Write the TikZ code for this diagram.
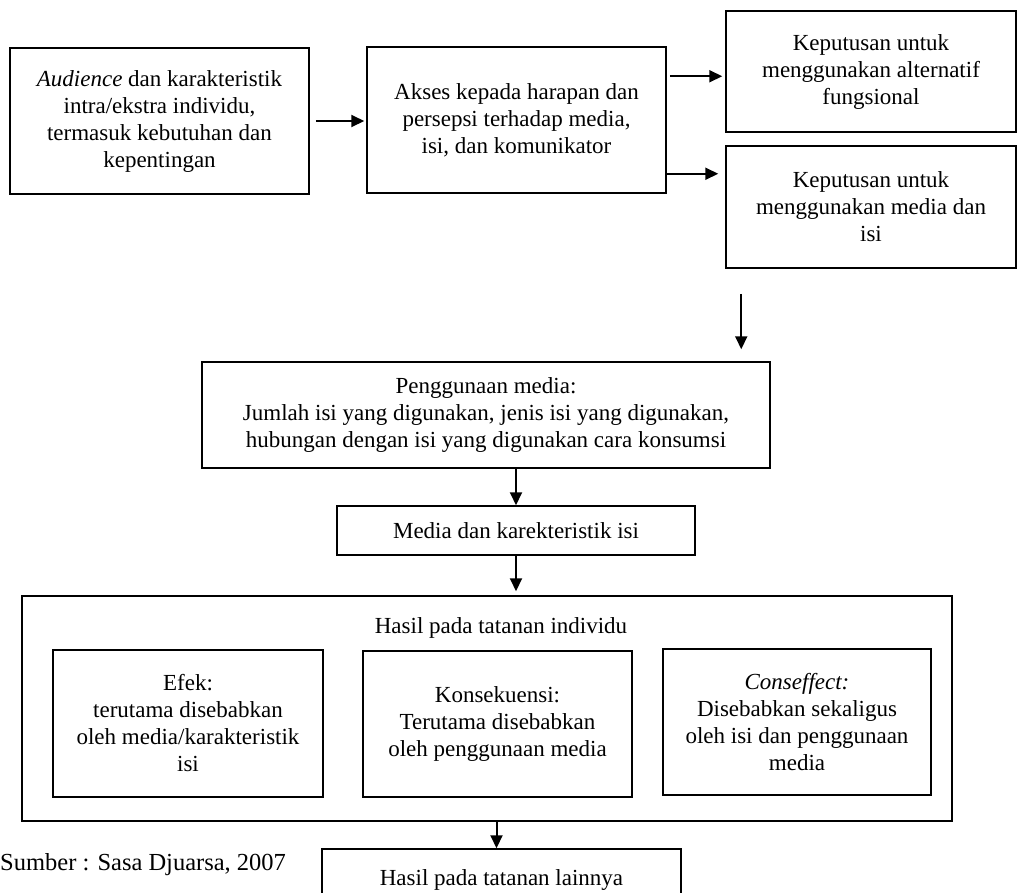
\documentclass[tikz,border=0pt]{standalone}
\usepackage{fontspec}
\setmainfont{Liberation Serif}
\usetikzlibrary{arrows.meta}
\begin{document}
\begin{tikzpicture}[x=1pt,y=-1pt,
  box/.style={draw, line width=1.5pt, inner sep=0pt, align=center, font=\fontsize{23}{27}\selectfont},
  lbl/.style={inner sep=0pt, align=center, font=\fontsize{23}{27}\selectfont},
  src/.style={inner sep=0pt, anchor=west, font=\fontsize{24.5}{29}\selectfont},
  arr/.style={line width=2pt, -{Triangle[length=13pt,width=12pt]}}
]
\useasboundingbox (0,0) rectangle (1017,892);

\node[box, minimum width=299pt, minimum height=146pt] (A) at (159.5,121)
  {\textit{Audience} dan karakteristik\\ intra/ekstra individu,\\ termasuk kebutuhan dan\\ kepentingan};
\node[box, minimum width=299pt, minimum height=146pt] (B) at (516.5,120)
  {Akses kepada harapan dan\\ persepsi terhadap media,\\ isi, dan komunikator};
\node[box, minimum width=290pt, minimum height=121pt] (C) at (871,71.5)
  {Keputusan untuk\\ menggunakan alternatif\\ fungsional};
\node[box, minimum width=290pt, minimum height=122pt] (D) at (871,207)
  {Keputusan untuk\\ menggunakan media dan\\ isi};
\node[box, minimum width=568pt, minimum height=106pt] (P) at (486,415)
  {Penggunaan media:\\ Jumlah isi yang digunakan, jenis isi yang digunakan,\\ hubungan dengan isi yang digunakan cara konsumsi};
\node[box, minimum width=358pt, minimum height=49pt] (M) at (516,530.5)
  {Media dan karekteristik isi};
\node[box, minimum width=930pt, minimum height=225pt] (H) at (487,708.5) {};
\node[lbl] (T) at (501,628) {Hasil pada tatanan individu};
\node[box, minimum width=270pt, minimum height=147pt] (E) at (188,723.5)
  {Efek:\\ terutama disebabkan\\ oleh media/karakteristik\\ isi};
\node[box, minimum width=269pt, minimum height=146pt] (K) at (497.5,724)
  {Konsekuensi:\\ Terutama disebabkan\\ oleh penggunaan media};
\node[box, minimum width=268pt, minimum height=146pt] (F) at (797,722)
  {\textit{Conseffect:}\\ Disebabkan sekaligus\\ oleh isi dan penggunaan\\ media};
\node[box, minimum width=359pt, minimum height=61pt] (L) at (501.5,879.5)
  {Hasil pada tatanan lainnya};
\node[src] (S) at (0,865) {Sumber : Sasa Djuarsa, 2007};

\draw[arr] ([xshift=6pt]A.east) -- ([xshift=-2pt]B.west |- A.east);
\coordinate (bc) at ([yshift=-30pt]B.north east);
\draw[arr] ([xshift=3pt]bc) -- ([xshift=-3pt]bc -| C.west);
\coordinate (bd) at ([yshift=20pt]B.south east);
\draw[arr] (bd) -- ([xshift=-7pt]bd -| D.west);
\coordinate (dp) at ([xshift=16pt,yshift=-25pt]D.south west);
\draw[arr] (dp) -- ([yshift=12pt]dp |- P.north);
\draw[arr] (P.south -| M.north) -- (M.north);
\draw[arr] (M.south) -- ([yshift=4pt]M.south |- H.north);
\draw[arr] ([xshift=-5pt]H.south -| L.north) -- ([xshift=-5pt]L.north);
\end{tikzpicture}
\end{document}
